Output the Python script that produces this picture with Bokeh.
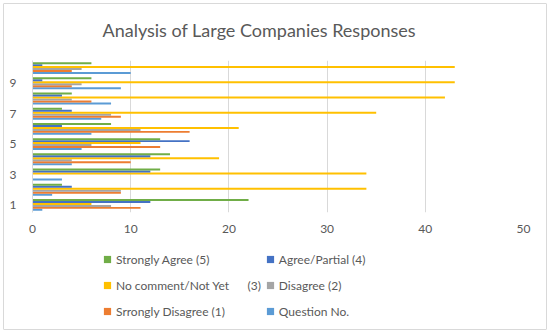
from bokeh.plotting import figure
from bokeh.layouts import column
from bokeh.models import Legend, LegendItem, Range1d, FixedTicker, ColumnDataSource
from bokeh.embed import file_html
from bokeh.resources import INLINE

questions = [1, 2, 3, 4, 5, 6, 7, 8, 9, 10]
question_no = [1, 2, 3, 4, 5, 6, 7, 8, 9, 10]
strongly_disagree = [11, 9, 0, 10, 13, 16, 9, 6, 4, 4]
disagree = [8, 9, 0, 4, 6, 11, 8, 4, 5, 5]
no_comment = [6, 34, 34, 19, 11, 21, 35, 42, 43, 43]
agree_partial = [12, 4, 12, 12, 16, 3, 4, 3, 1, 1]
strongly_agree = [22, 3, 13, 14, 13, 8, 3, 4, 6, 6]

series_names = ["Question No.", "Srrongly Disagree (1)", "Disagree (2)",
                "No comment/Not Yet\u00a0\u00a0\u00a0\u00a0\u00a0\u00a0(3)", "Agree/Partial (4)", "Strongly Agree (5)"]
series_values = [question_no, strongly_disagree, disagree, no_comment, agree_partial, strongly_agree]
colors = ["#5B9BD5", "#ED7D31", "#A5A5A5", "#FFC000", "#4472C4", "#70AD47"]
y_ticks = [1, 3, 5, 7, 9]
x_ticks = [0, 10, 20, 30, 40, 50]

FONT = "Lato"
GRAY = "#595959"

p = figure(width=550, height=240, output_backend="svg", toolbar_location=None,
           x_range=Range1d(0, 50), y_range=Range1d(0.5, 10.5),
           min_border_left=32, min_border_right=27, min_border_top=59, min_border_bottom=28,
           title="Analysis of Large Companies Responses")
p.outline_line_color = None
p.background_fill_color = "white"
p.border_fill_alpha = 0

p.title.text_font = FONT
p.title.text_font_size = "18px"
p.title.text_font_style = "normal"
p.title.text_color = GRAY
p.title.align = "left"
p.title.vertical_align = "top"
p.title.offset = 70
p.title.standoff = 36

bw = 0.13
for i, (name, vals, c) in enumerate(zip(series_names, series_values, colors)):
    off = (i - 2.5) * bw
    src = ColumnDataSource(dict(y=[q + off for q in questions], right=vals))
    p.hbar(y="y", right="right", left=0, height=bw, source=src,
           fill_color=c, line_color=None)

p.xaxis.ticker = FixedTicker(ticks=x_ticks)
p.yaxis.ticker = FixedTicker(ticks=y_ticks)
for ax in (p.xaxis[0], p.yaxis[0]):
    ax.major_tick_line_color = None
    ax.minor_tick_line_color = None
    ax.major_label_text_font = FONT
    ax.major_label_text_font_size = "12px"
    ax.major_label_text_color = GRAY
p.xaxis[0].axis_line_color = None
p.xaxis[0].major_label_standoff = 6
p.yaxis[0].axis_line_color = "#D9D9D9"
p.yaxis[0].major_label_standoff = 10

p.xgrid.grid_line_color = "#D9D9D9"
p.ygrid.grid_line_color = None

# legend figure below the chart
lg = figure(width=550, height=93, output_backend="svg", toolbar_location=None,
            x_range=Range1d(0, 1), y_range=Range1d(0, 1),
            x_axis_type=None, y_axis_type=None,
            min_border_left=0, min_border_right=0, min_border_top=0, min_border_bottom=0)
lg.outline_line_color = None
lg.grid.grid_line_color = None
lg.background_fill_alpha = 0
lg.border_fill_alpha = 0

legend_r = []
for name, c in zip(series_names, colors):
    lr = lg.scatter(x=[-100], y=[-100], marker="square", fill_color=c, line_color=None)
    legend_r.append((name, lr))

order = [5, 4, 3, 2, 1, 0]
items = [LegendItem(label=legend_r[k][0], renderers=[legend_r[k][1]]) for k in order]
legend = Legend(items=items, location=(66, 9), orientation="horizontal", ncols=2,
                glyph_width=18, glyph_height=26, label_height=26, spacing=0,
                label_standoff=-3, padding=0, margin=0,
                label_text_font=FONT, label_text_font_size="12px", label_text_color=GRAY,
                border_line_color=None, background_fill_alpha=0)
lg.add_layout(legend, "center")

layout = column(p, lg, spacing=0,
                styles={"outline": "1px solid #D9D9D9", "outline-offset": "-4px",
                        "border-radius": "4px", "background-color": "white"})
open("out.html", "w").write(file_html(layout, INLINE))
